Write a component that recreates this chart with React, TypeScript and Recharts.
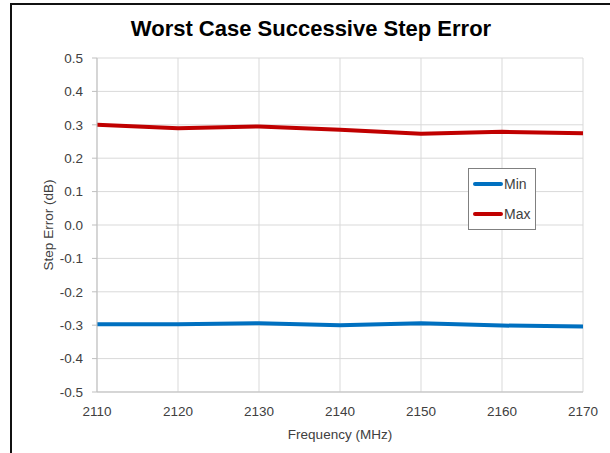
import { LineChart, Line, XAxis, YAxis, CartesianGrid, Legend } from "recharts";

const frequencies = [2110, 2120, 2130, 2140, 2150, 2160, 2170];
const minError = [-0.297, -0.297, -0.294, -0.3, -0.294, -0.301, -0.304];
const maxError = [0.3, 0.29, 0.295, 0.285, 0.273, 0.279, 0.275];
const yTicks = [-0.5, -0.4, -0.3, -0.2, -0.1, 0, 0.1, 0.2, 0.3, 0.4, 0.5];
const seriesOrder = ["Min", "Max"];

const data = frequencies.map((f, i) => ({
  freq: f,
  min: minError[i],
  max: maxError[i],
}));

const font = "'Liberation Sans', Arial, sans-serif";
const tickStyle = { fill: "#404040", fontSize: 13.5, fontFamily: font };

const LegendBox = ({ payload }: any) => {
  const items = [...(payload || [])].sort(
    (a: any, b: any) => seriesOrder.indexOf(a.value) - seriesOrder.indexOf(b.value)
  );
  return (
    <div
      style={{
        position: "relative",
        width: 66,
        height: 60,
        border: "1px solid #808080",
        background: "#fff",
        fontFamily: font,
        fontSize: 14,
        color: "#404040",
      }}
    >
      {items.map((p: any, i: number) => (
        <div
          key={p.value}
          style={{
            position: "absolute",
            left: 4,
            top: 8 + i * 30,
            display: "flex",
            alignItems: "center",
            height: 14,
          }}
        >
          <span
            style={{
              display: "inline-block",
              width: 30,
              height: 4,
              borderRadius: 2,
              background: p.color,
            }}
          />
          <span style={{ marginLeft: 1 }}>{p.value}</span>
        </div>
      ))}
    </div>
  );
};

export default function App() {
  return (
    <div
      style={{
        position: "absolute",
        left: 0,
        top: 0,
        width: 610,
        height: 453,
        background: "#fff",
        overflow: "hidden",
      }}
    >
      {/* frame */}
      <div style={{ position: "absolute", left: 10, top: 3, width: 600, height: 2, background: "#111" }} />
      <div style={{ position: "absolute", left: 10, top: 3, width: 2, height: 450, background: "#111" }} />

      <div
        style={{
          position: "absolute",
          left: 0,
          width: 622,
          top: 16,
          textAlign: "center",
          fontFamily: font,
          fontWeight: "bold",
          fontSize: 22,
          color: "#000",
        }}
      >
        Worst Case Successive Step Error
      </div>

      <div
        style={{
          position: "absolute",
          left: 48,
          top: 225,
          transform: "translate(-50%, -50%) rotate(-90deg)",
          whiteSpace: "nowrap",
          fontFamily: font,
          fontSize: 13.5,
          color: "#404040",
        }}
      >
        Step Error (dB)
      </div>

      <LineChart
        width={610}
        height={453}
        data={data}
        margin={{ top: 58, right: 27, bottom: 0, left: 37 }}
        style={{ position: "absolute", left: 0, top: 0 }}
      >
        <CartesianGrid stroke="#d9d9d9" strokeWidth={1} />
        <XAxis
          dataKey="freq"
          type="number"
          domain={[2110, 2170]}
          ticks={frequencies}
          height={61}
          stroke="#bfbfbf"
          tickLine={false}
          tickMargin={8}
          tick={tickStyle}
          label={{
            value: "Frequency (MHz)",
            position: "insideBottom",
            offset: 14,
            fill: "#404040",
            fontSize: 13.5,
            fontFamily: font,
          }}
        />
        <YAxis
          type="number"
          domain={[-0.5, 0.5]}
          ticks={yTicks}
          width={60}
          stroke="#bfbfbf"
          tickSize={5}
          tickMargin={9}
          tick={tickStyle}
          tickFormatter={(v: number) => v.toFixed(1)}
        />
        <Legend
          layout="horizontal"
          verticalAlign="middle"
          align="center"
          wrapperStyle={{ left: 468, top: 168, width: 68, height: 62 }}
          content={<LegendBox />}
        />
        <Line
          dataKey="min"
          name="Min"
          stroke="#0070C0"
          strokeWidth={4}
          dot={false}
          isAnimationActive={false}
        />
        <Line
          dataKey="max"
          name="Max"
          stroke="#C00000"
          strokeWidth={4}
          dot={false}
          isAnimationActive={false}
        />
      </LineChart>
    </div>
  );
}
